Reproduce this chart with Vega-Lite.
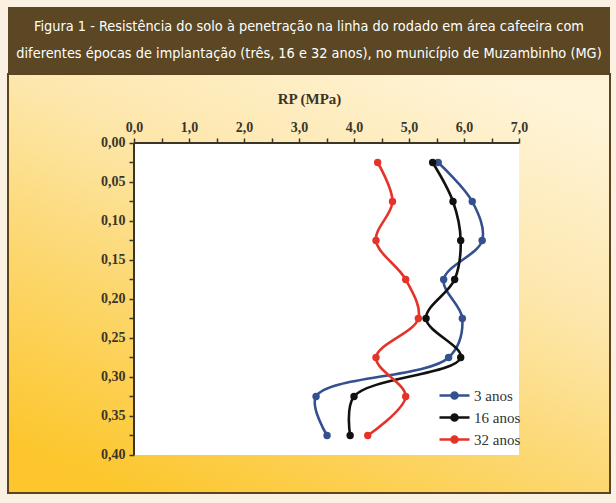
{
  "$schema": "https://vega.github.io/schema/vega-lite/v6.json",
  "background": "#fbf1e2",
  "padding": {"left": 7, "top": 7, "right": 7, "bottom": 10},
  "spacing": 0,
  "bounds": "flush",
  "config": {"view": {"stroke": null}, "concat": {"spacing": 0}},
  "datasets": {
    "title": [
      {"line": 1, "text": "Figura 1 - Resistência do solo à penetração na linha do rodado em área cafeeira com"},
      {"line": 2, "text": "diferentes épocas de implantação (três, 16 e 32 anos), no município de Muzambinho (MG)"}
    ],
    "rp": [
      {"serie": "3 anos", "depth": 0.025, "rp": 5.53},
      {"serie": "3 anos", "depth": 0.075, "rp": 6.15},
      {"serie": "3 anos", "depth": 0.125, "rp": 6.33},
      {"serie": "3 anos", "depth": 0.175, "rp": 5.63},
      {"serie": "3 anos", "depth": 0.225, "rp": 5.97},
      {"serie": "3 anos", "depth": 0.275, "rp": 5.72},
      {"serie": "3 anos", "depth": 0.325, "rp": 3.31},
      {"serie": "3 anos", "depth": 0.375, "rp": 3.51},
      {"serie": "16 anos", "depth": 0.025, "rp": 5.43},
      {"serie": "16 anos", "depth": 0.075, "rp": 5.80},
      {"serie": "16 anos", "depth": 0.125, "rp": 5.94},
      {"serie": "16 anos", "depth": 0.175, "rp": 5.83},
      {"serie": "16 anos", "depth": 0.225, "rp": 5.31},
      {"serie": "16 anos", "depth": 0.275, "rp": 5.94},
      {"serie": "16 anos", "depth": 0.325, "rp": 4.00},
      {"serie": "16 anos", "depth": 0.375, "rp": 3.93},
      {"serie": "32 anos", "depth": 0.025, "rp": 4.43},
      {"serie": "32 anos", "depth": 0.075, "rp": 4.70},
      {"serie": "32 anos", "depth": 0.125, "rp": 4.40},
      {"serie": "32 anos", "depth": 0.175, "rp": 4.94},
      {"serie": "32 anos", "depth": 0.225, "rp": 5.17},
      {"serie": "32 anos", "depth": 0.275, "rp": 4.40},
      {"serie": "32 anos", "depth": 0.325, "rp": 4.94},
      {"serie": "32 anos", "depth": 0.375, "rp": 4.25}
    ]
  },
  "vconcat": [
    {
      "width": 602,
      "height": 67,
      "view": {"fill": "#5b4723", "stroke": null},
      "data": {"name": "title"},
      "mark": {"type": "text", "color": "#ffffff", "font": "DejaVu Sans Condensed, Roboto", "fontSize": 14.4, "fontWeight": 500, "baseline": "middle", "align": "center"},
      "encoding": {
        "y": {"field": "line", "type": "ordinal", "axis": null, "scale": {"type": "point", "padding": 0.7}},
        "text": {"field": "text"}
      }
    },
    {
      "width": 602,
      "height": 419,
      "view": {
        "fill": {"gradient": "linear", "x1": 0.8, "y1": 0, "x2": 0.2, "y2": 1,
          "stops": [{"offset": 0, "color": "#fff4d8"}, {"offset": 0.35, "color": "#fde7ad"}, {"offset": 0.7, "color": "#fcd566"}, {"offset": 1, "color": "#fcc62c"}]},
        "stroke": "#5a4520",
        "strokeWidth": 2
      },
      "data": {"name": "rp"},
      "encoding": {
        "x": {"field": "rp", "type": "quantitative", "title": "RP (MPa)",
          "scale": {"domain": [-2.2909, 8.6545], "nice": false, "zero": false},
          "axis": {"orient": "top", "offset": -69, "domain": false, "grid": false,
            "values": [0, 0.5, 1, 1.5, 2, 2.5, 3, 3.5, 4, 4.5, 5, 5.5, 6, 6.5, 7],
            "labelExpr": "datum.value % 1 == 0 ? replace(format(datum.value, '.1f'), '.', ',') : ''",
            "labelOverlap": false, "labelFlush": false,
            "tickSize": 5, "tickColor": "#3a3528", "tickWidth": 1.5,
            "labelFont": "Liberation Serif", "labelFontSize": 14, "labelFontWeight": "bold", "labelColor": "#3a3528", "labelPadding": 4,
            "titleFont": "Liberation Serif", "titleFontSize": 15, "titleFontWeight": "bold", "titleColor": "#3a3528", "titlePadding": 14}},
        "y": {"field": "depth", "type": "quantitative", "title": null,
          "scale": {"domain": [-0.08846, 0.44872], "nice": false, "zero": false, "reverse": true},
          "axis": {"orient": "left", "offset": -126, "domain": false, "grid": false,
            "values": [0, 0.025, 0.05, 0.075, 0.1, 0.125, 0.15, 0.175, 0.2, 0.225, 0.25, 0.275, 0.3, 0.325, 0.35, 0.375, 0.4],
            "labelExpr": "round(datum.value * 1000) % 50 == 0 ? replace(format(datum.value, '.2f'), '.', ',') : ''",
            "labelOverlap": false, "labelFlush": false,
            "tickSize": 5, "tickColor": "#3a3528", "tickWidth": 1.5,
            "labelFont": "Liberation Serif", "labelFontSize": 14, "labelFontWeight": "bold", "labelColor": "#3a3528", "labelPadding": 4}}
      },
      "layer": [
        {
          "mark": {"type": "rect", "color": "#ffffff"},
          "encoding": {"x": {"datum": 0}, "x2": {"datum": 7}, "y": {"datum": 0}, "y2": {"datum": 0.4}}
        },
        {
          "mark": {"type": "rule", "color": "#3a3528", "strokeWidth": 2},
          "encoding": {"x": {"datum": 0}, "x2": {"datum": 7}, "y": {"datum": 0}}
        },
        {
          "mark": {"type": "rule", "color": "#3a3528", "strokeWidth": 2},
          "encoding": {"x": {"datum": 0}, "y": {"datum": 0}, "y2": {"datum": 0.4}}
        },
        {
          "mark": {"type": "line", "interpolate": "catmull-rom", "strokeWidth": 2.6},
          "encoding": {
            "order": {"field": "depth", "type": "quantitative"},
            "color": {"field": "serie", "type": "nominal",
              "scale": {"domain": ["3 anos", "16 anos", "32 anos"], "range": ["#34508e", "#111111", "#e5332a"]},
              "legend": {"orient": "none", "legendX": 433, "legendY": 375, "title": null,
                "symbolType": "M-1.25,0L1.25,0M-0.25,0A0.25,0.25,0,1,1,0.25,0A0.25,0.25,0,1,1,-0.25,0",
                "symbolSize": 576, "symbolStrokeWidth": 2.6, "rowPadding": 0,
                "labelFont": "Liberation Serif", "labelFontSize": 15, "labelColor": "#333333", "labelOffset": 6,
                "encode": {"symbols": {"update": {"fill": {"scale": "color", "field": "value"}, "stroke": {"scale": "color", "field": "value"}}}}}
            }
          }
        },
        {
          "mark": {"type": "point", "filled": true, "size": 55, "opacity": 1},
          "encoding": {
            "color": {"field": "serie", "type": "nominal", "scale": {"domain": ["3 anos", "16 anos", "32 anos"], "range": ["#34508e", "#111111", "#e5332a"]}}
          }
        }
      ]
    }
  ]
}
